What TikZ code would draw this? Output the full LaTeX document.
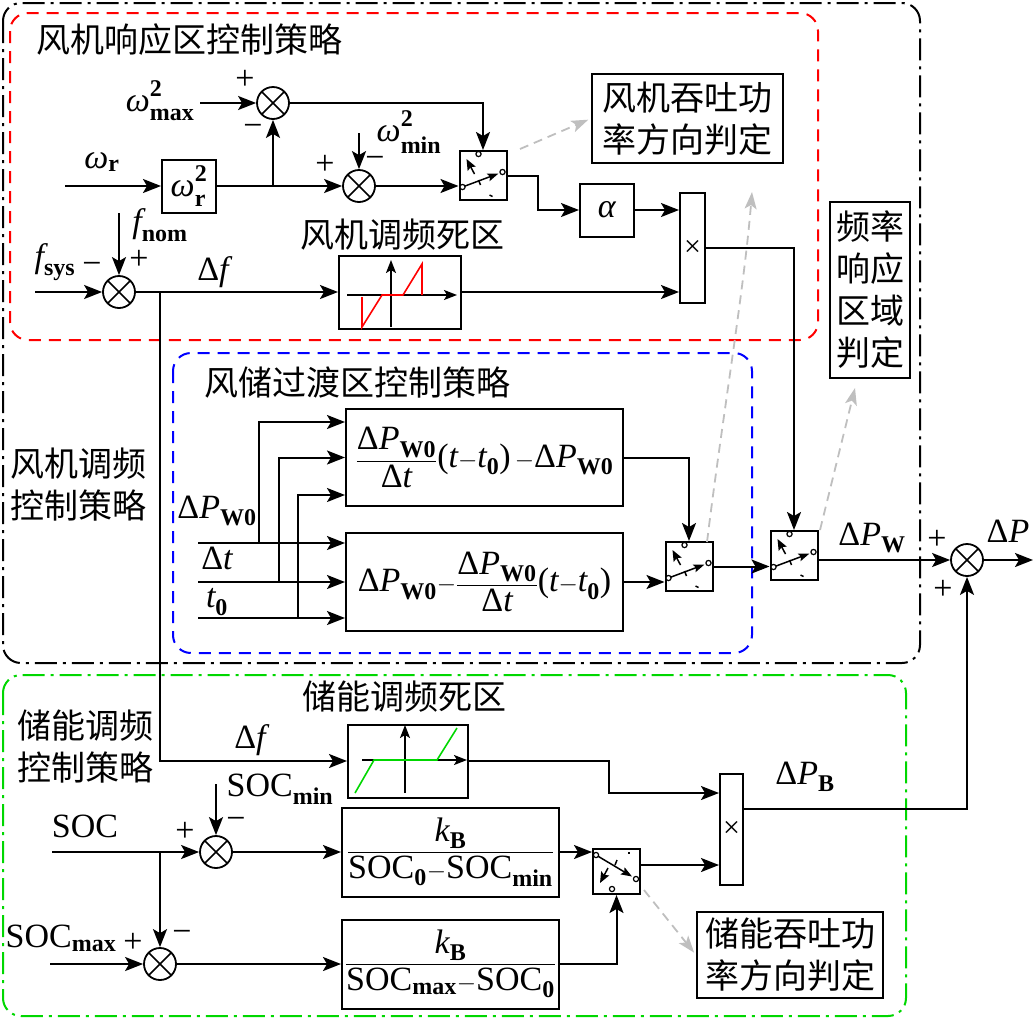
\documentclass[tikz,border=0pt]{standalone}
\usepackage{amsmath}
\usepackage{fontspec}
\setmainfont{Liberation Serif}
\newfontfamily\cjk{Noto Sans CJK SC}
\usetikzlibrary{arrows.meta}

\DeclareMathSizes{34}{34}{24}{18}
\definecolor{zgreen}{RGB}{0,215,0}

\newcommand{\sub}[1]{\textbf{#1}}
\newcommand{\DPW}{\text{Δ}\textit{P}_\sub{W0}}
\newcommand{\DT}{\text{Δ}\textit{t}}
\newcommand{\wsq}[1]{\textit{ω}^{\raisebox{6pt}{$\scriptstyle\sub{2}$}}_{\raisebox{-3pt}{$\scriptstyle\sub{#1}$}}}

% switch icon, control port on top
\newcommand{\swup}[1]{%
  \begin{scope}[shift={(#1.north west)},line width=1.5pt]
    \draw[-{Stealth[length=11pt,width=8pt,inset=2pt]}] (4,37) -- (40,23.5);
    \draw[-{Stealth[length=11pt,width=9pt,inset=2pt]}] (16,24) -- (8,9);
    \draw (20,30) -- (22,35);
    \draw (31,45) -- (34,46.5);
    \draw[fill=white,line width=1.2pt] (4,37) circle (2.6pt) (44,22) circle (2.6pt) (20,4) circle (2.6pt);
  \end{scope}}
% switch icon, control port at bottom
\newcommand{\swdown}[1]{%
  \begin{scope}[shift={(#1.north west)},line width=1.5pt]
    \draw[-{Stealth[length=11pt,width=8pt,inset=2pt]}] (4,7) -- (40,28.5);
    \draw[-{Stealth[length=11pt,width=9pt,inset=2pt]}] (16,20) -- (8,35);
    \draw (25,12) -- (23,17);
    \draw (36,5) -- (38,5);
    \draw[fill=white,line width=1.2pt] (4,7) circle (2.6pt) (44,31) circle (2.6pt) (20,41) circle (2.6pt);
  \end{scope}}

\tikzset{
  sumnode/.style={circle,draw,minimum size=32pt,inner sep=0pt,line width=1.8pt,
    path picture={\draw[line width=1.5pt]
      (path picture bounding box.north west) -- (path picture bounding box.south east)
      (path picture bounding box.north east) -- (path picture bounding box.south west);}},
  block/.style={draw,rectangle,inner sep=0pt},
  swbox/.style={draw,rectangle,minimum width=47pt,minimum height=49pt,inner sep=0pt},
  cn/.style={font=\cjk\fontsize{34}{42}\selectfont,inner sep=0pt},
  lbl/.style={inner sep=0pt},
  zone/.style={line width=2pt,rounded corners=18pt},
  grayarr/.style={draw=black!25,line width=1.8pt,dash pattern=on 9pt off 6pt,
    -{Stealth[length=17pt,width=12pt,inset=4pt,fill=black!25]}},
  icon/.style={line width=1.6pt,-{Stealth[length=13pt,width=10pt,inset=3pt]}}
}

\begin{document}
\begin{tikzpicture}[x=1pt,y=-1pt,line width=2pt,
  >={Stealth[length=18pt,width=14pt,inset=4pt]},
  font=\fontsize{34}{42}\selectfont]
  \useasboundingbox (0,0) rectangle (1035,1018);

  % zones
  \draw[zone,dash pattern=on 22pt off 6pt on 3pt off 6pt] (3,3) rectangle (920,663);
  \draw[zone,red,dash pattern=on 12pt off 8pt] (10,13) rectangle (818,340);
  \draw[zone,blue,dash pattern=on 12pt off 8pt] (173,353) rectangle (752,653);
  \draw[zone,zgreen,dash pattern=on 22pt off 6pt on 3pt off 6pt] (3,675) rectangle (906,1016);

  % titles
  \node[cn,anchor=west] (tW) at (35,40) {风机响应区控制策略};
  \node[cn,align=center] (tWF) at (78,485) {风机调频\\控制策略};
  \node[cn,anchor=west] (tT) at (203,383) {风储过渡区控制策略};
  \node[cn,align=center] (tB) at (85,747) {储能调频\\控制策略};
  \node[cn] (tdb1) at (402,235) {风机调频死区};
  \node[cn] (tdb2) at (404,697) {储能调频死区};

  % wind turbine zone
  \node[sumnode] (s1) at (273,103) {};
  \node[sumnode] (s2) at (359,186) {};
  \node[sumnode] (s3) at (119,292) {};
  \node[block,minimum width=54pt,minimum height=53pt] (wr2) at (189,186) {$\wsq{r}$};
  \node[swbox] (sw1) at (483,175.5) {};
  \node[block,minimum width=54pt,minimum height=53pt] (alpha) at (607,210) {\textit{α}};
  \node[block,minimum width=25pt,minimum height=110pt,font=\fontsize{30}{30}\selectfont] (mul1) at (692.5,248) {×};
  \node[block,minimum width=122pt,minimum height=73pt] (db1) at (400,292) {};
  \node[block,cn,minimum width=191pt,minimum height=89pt,align=center] (dirW) at (687.5,118.5) {风机吞吐功\\率方向判定};
  \node[block,cn,minimum width=80pt,minimum height=176pt,align=center] (freqJ) at (870,290) {频率\\响应\\区域\\判定};

  \node[lbl] (lwmax) at (160,101) {$\wsq{max}$};
  \node[lbl] (lwr) at (102,162) {$\textit{ω}_\sub{r}$};
  \node[lbl] (lwmin) at (409,132) {$\wsq{min}$};
  \node[lbl] (lfnom) at (160,225) {$\textit{f}_\sub{nom}$};
  \node[lbl] (lfsys) at (55,262) {$\textit{f}_\sub{sys}$};
  \node[lbl] (ldf1) at (213,272) {$\text{Δ}\textit{f}$};
  \node[lbl] (p1) at (245,80) {+};
  \node[lbl] (m1) at (253,130) {−};
  \node[lbl] (p2) at (325,165) {+};
  \node[lbl] (m2) at (375,162) {−};
  \node[lbl] (p3) at (139,260) {+};
  \node[lbl] (m3) at (92,268) {−};

  \coordinate (wmaxin) at (200,103);
  \coordinate (wrin) at (65,186);
  \coordinate (wminin) at (359,133);
  \coordinate (fsysin) at (35,292);
  \coordinate (fnomin) at (119,213);
  \coordinate (brf) at (160,292);

  \draw[->] (wmaxin) -- (s1.west);
  \draw[->] (wrin) -- (wr2.west);
  \draw[->] (wr2.east) -- (s2.west);
  \draw[->] (s1 |- s2) -- (s1.south);
  \draw[->] (s1.east) -| (sw1.north);
  \draw[->] (wminin) -- (s2.north);
  \draw[->] (s2.east) -- (sw1.west |- s2);
  \draw[->] (sw1.east) -- ++(30,0) |- (alpha.west);
  \draw[->] (alpha.east) -- (mul1.west |- alpha);
  \draw[->] (fsysin) -- (s3.west);
  \draw[->] (fnomin) -- (s3.north);
  \draw[->] (s3.east) -- (db1.west);
  \draw[->] (db1.east) -- (mul1.west |- db1);
  \swup{sw1}

  \begin{scope}[shift={(db1.center)}]
    \draw[icon] (-53,3) -- (57,3);
    \draw[icon] (-9,35) -- (-9,-32);
    \draw[red,line width=1.6pt] (-38,5) -- (-38,35) -- (-18,3) -- (3,3) -- (22,-28) -- (22,3);
  \end{scope}

  % transition zone
  \node[block,minimum width=277pt,minimum height=97pt] (T1) at (484.5,457.5)
    {$\dfrac{\DPW}{\DT}\text{(}\textit{t}{-}\textit{t}_\sub{0}\text{)}\,{-}\DPW$};
  \node[block,minimum width=277pt,minimum height=98pt] (T2) at (484.5,582)
    {$\DPW{-}\dfrac{\DPW}{\DT}\text{(}\textit{t}{-}\textit{t}_\sub{0}\text{)}$};
  \node[swbox] (sw2) at (689,566.5) {};
  \node[swbox] (sw3) at (794,555.5) {};
  \node[sumnode] (s4) at (967,560) {};

  \node[lbl] (ldpw) at (217,511) {$\DPW$};
  \node[lbl] (ldt) at (217,558) {$\DT$};
  \node[lbl] (lt0) at (217,602) {$\textit{t}_\sub{0}$};
  \node[lbl] (ldpW) at (872,538) {$\text{Δ}\textit{P}_\sub{W}$};
  \node[lbl] (ldp) at (1008,531) {$\text{Δ}\textit{P}$};
  \node[lbl] (p4) at (937,540) {+};
  \node[lbl] (p5) at (943,590) {+};

  \coordinate (dpwin) at (198,543);
  \coordinate (dtin) at (198,582);
  \coordinate (t0in) at (198,618);
  \coordinate (dpout) at (1033,560);

  \draw[->] (dpwin) -- (T2.west |- dpwin);
  \draw[->] (dtin) -- (T2.west |- dtin);
  \draw[->] (t0in) -- (T2.west |- t0in);
  \draw[->] (259,543) |- (T1.west |- 0,422);
  \draw[->] (279,582) |- (T1.west |- 0,457.5);
  \draw[->] (298,618) |- (T1.west |- 0,495);
  \draw[->] (T1.east) -| (sw2.north);
  \draw[->] (T2.east) -- (sw2.west |- T2);
  \draw[->] (sw2.east) -- (sw3.west |- sw2);
  \draw[->] (mul1.east) -| (sw3.north);
  \draw[->] (sw3.east |- s4) -- (s4.west);
  \draw[->] (s4.east) -- (dpout);
  \swup{sw2}
  \swup{sw3}

  % storage zone
  \node[sumnode] (s5) at (216,852) {};
  \node[sumnode] (s6) at (160,964) {};
  \node[block,minimum width=120pt,minimum height=73pt] (db2) at (408,761) {};
  \node[block,minimum width=217pt,minimum height=89pt] (K1) at (450.5,852)
    {$\dfrac{\textit{k}_\sub{B}}{\text{SOC}_\sub{0}{-}\text{SOC}_\sub{min}}$};
  \node[block,minimum width=217pt,minimum height=89pt] (K2) at (450.5,964)
    {$\dfrac{\textit{k}_\sub{B}}{\text{SOC}_\sub{max}{-}\text{SOC}_\sub{0}}$};
  \node[swbox,minimum height=45pt] (sw4) at (616.5,871.5) {};
  \node[block,minimum width=23pt,minimum height=111pt,font=\fontsize{30}{30}\selectfont] (mul2) at (731.5,829.5) {×};
  \node[block,cn,minimum width=186pt,minimum height=86pt,align=center] (dirB) at (790,955) {储能吞吐功\\率方向判定};

  \node[lbl] (ldf2) at (250,740) {$\text{Δ}\textit{f}$};
  \node[lbl] (lsocmin) at (280,789) {SOC$_\sub{min}$};
  \node[lbl] (lsoc) at (85,826) {SOC};
  \node[lbl] (lsocmax) at (61,938) {SOC$_\sub{max}$};
  \node[lbl] (ldpB) at (805,777) {$\text{Δ}\textit{P}_\sub{B}$};
  \node[lbl] (p6) at (185,832) {+};
  \node[lbl] (m6) at (236,823) {−};
  \node[lbl] (p7) at (133,943) {+};
  \node[lbl] (m7) at (182,936) {−};

  \coordinate (socin) at (52,852);
  \coordinate (socminin) at (216,784);
  \coordinate (socmaxin) at (50,964);
  \coordinate (brsoc) at (160,852);

  \draw[->] (brf) |- (db2.west);
  \draw[->] (db2.east) -- (609,761) |- (mul2.west |- 0,793);
  \draw[->] (socin) -- (s5.west);
  \draw[->] (socminin) -- (s5.north);
  \draw[->] (s5.east) -- (K1.west);
  \draw[->] (brsoc) -- (s6.north);
  \draw[->] (socmaxin) -- (s6.west);
  \draw[->] (s6.east) -- (K2.west);
  \draw[->] (K1.east) -- (sw4.west |- K1);
  \draw[->] (K2.east) -| (sw4.south);
  \draw[->] (sw4.east |- 0,865) -- (mul2.west |- 0,865);
  \draw[->] (mul2.east |- 0,809) -| (s4.south);
  \swdown{sw4}

  \begin{scope}[shift={(db2.center)}]
    \draw[icon] (-46,-1) -- (59,-1);
    \draw[icon] (-3,32) -- (-3,-36);
    \draw[zgreen,line width=1.6pt] (-53,32) -- (-34,-1) -- (29,-1) -- (49,-33);
  \end{scope}

  % direction judgement hints
  \coordinate (g1s) at (520,149);
  \coordinate (g2s) at (707,542);
  \coordinate (g2e) at (752,192);
  \coordinate (g3s) at (820,530);
  \coordinate (g3e) at (855,388);
  \coordinate (g4s) at (644,890);
  \draw[grayarr,shorten >=3pt] (g1s) -- (dirW.west);
  \draw[grayarr] (g2s) .. controls (722,420) and (744,290) .. (g2e);
  \draw[grayarr] (g3s) -- (g3e);
  \draw[grayarr,shorten >=3pt] (g4s) -- (dirB.west);
\end{tikzpicture}
\end{document}
